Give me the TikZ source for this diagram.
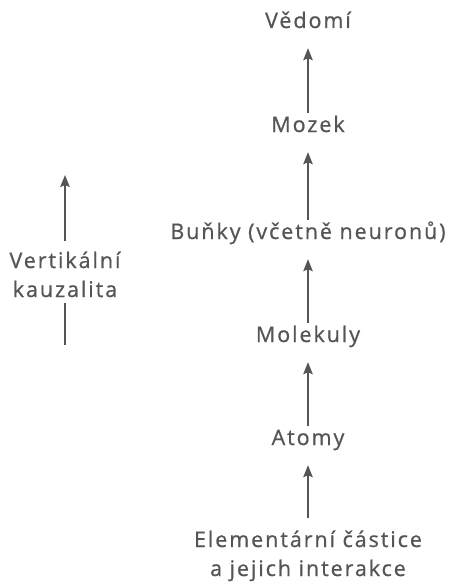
\documentclass[tikz,border=0pt]{standalone}
\usepackage{fontspec}
\setmainfont{Open Sans}[LetterSpace=9, FakeBold=0.8]
\usetikzlibrary{arrows.meta}
\definecolor{ink}{HTML}{555555}
\tikzset{
  txt/.style={inner sep=0pt, text=ink, font=\fontsize{21.5}{29}\selectfont},
  lbl/.style={txt, text height=15pt, text depth=4pt, anchor=base},
  tip/.style={-{Stealth[length=12pt,width=9.5pt,inset=2pt]}},
  up/.style={draw=ink, line width=1.6pt, tip, shorten >=16pt, shorten <=4pt}
}
\begin{document}
\begin{tikzpicture}[x=1pt,y=-1pt]
  \useasboundingbox (0,0) rectangle (454,586);
  % the chain of levels, bottom to top
  \node[lbl] (ved) at (308,28) {Vědomí};
  \node[lbl] (moz) at (308,132) {Mozek};
  \node[lbl] (bun) at (308,239) {Buňky (včetně neuronů)};
  \node[lbl] (mol) at (308,342) {Molekuly};
  \node[lbl] (ato) at (308,445) {Atomy};
  % base of a two-line node is the baseline of its last line
  \node[txt, align=center, anchor=base] (ele) at (308,576)
    {Elementární částice\\a jejich interakce};
  \draw[up] (moz) -- (ved);
  \draw[up] (bun) -- (moz);
  \draw[up] (mol) -- (bun);
  \draw[up] (ato) -- (mol);
  \draw[up, shorten <=0pt] ([yshift=12pt]ele.north) -- (ato);
  % side label with its arrow
  \node[txt, align=center, anchor=base] (vk) at (65,297)
    {Vertikální\\kauzalita};
  \coordinate (vtop) at (65,175);
  \coordinate (vbot) at (65,345);
  \draw[draw=ink, line width=1.6pt, tip] ([yshift=10pt]vk.north) -- (vtop);
  \draw[draw=ink, line width=1.6pt] ([yshift=-6pt]vk.south) -- (vbot);
\end{tikzpicture}
\end{document}
